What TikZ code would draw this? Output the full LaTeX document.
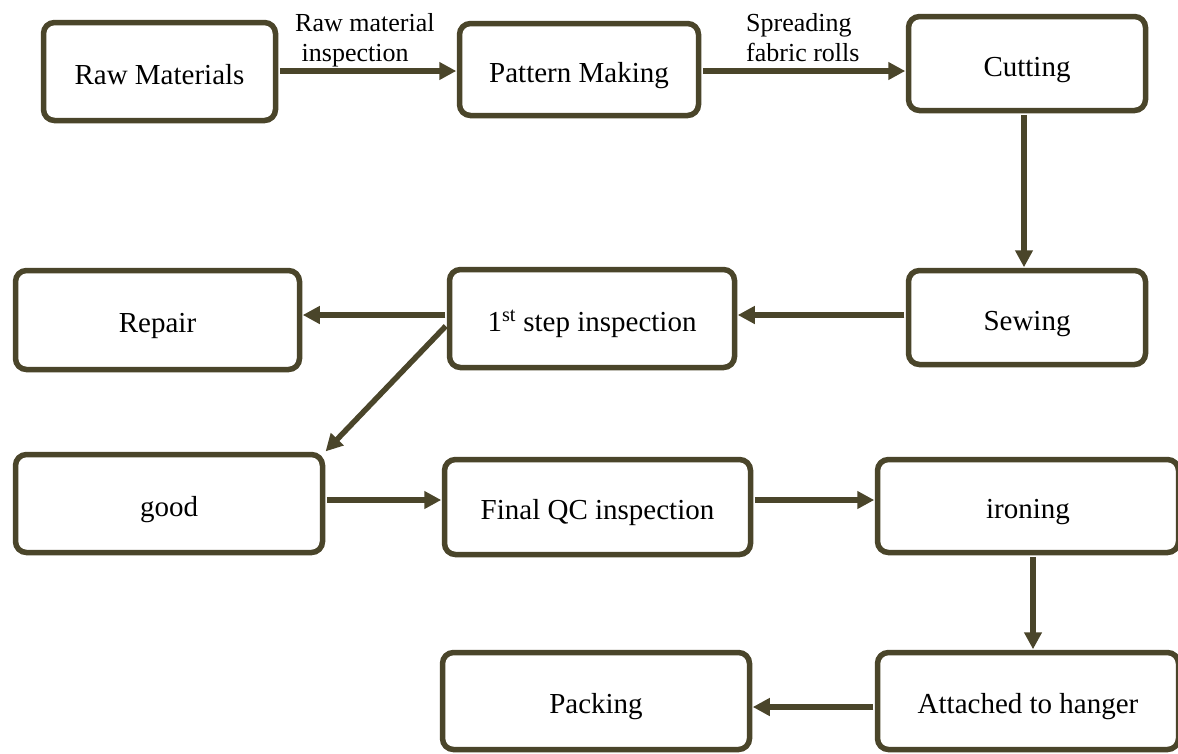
\documentclass[tikz,border=0pt]{standalone}
\usepackage{fontspec}
\setmainfont{Liberation Serif}
\usetikzlibrary{arrows.meta}
\definecolor{boxc}{RGB}{74,69,42}
\begin{document}
\begin{tikzpicture}[x=1pt,y=-1pt,
  box/.style={draw=boxc, line width=5.5pt, rounded corners=11pt, fill=white,
    inner sep=0pt, text height=25pt, text depth=0pt, text=black,
    font=\fontsize{29pt}{33pt}\selectfont},
  lbl/.style={inner sep=0pt, align=left, text depth=0pt, anchor=south west,
    font=\fontsize{26pt}{30pt}\selectfont},
  arr/.style={draw=boxc, line width=5.5pt, shorten <=1.5pt, shorten >=0.5pt,
    -{Triangle[length=17pt,width=17pt]}}]
\fill[white] (0,0) rectangle (1178,753);
\useasboundingbox (0,0) rectangle (1178,753);

\node[box, minimum width=232pt, minimum height=98pt] (rm) at (159.5,71.5) {Raw Materials};
\node[box, minimum width=239pt, minimum height=92pt] (pm) at (579,69.5) {Pattern Making};
\node[box, minimum width=237pt, minimum height=94pt] (cut) at (1027,63.5) {Cutting};
\node[box, minimum width=237pt, minimum height=94pt] (sew) at (1027,317.5) {Sewing};
\node[box, minimum width=285pt, minimum height=98pt] (st) at (592,318.5) {1\textsuperscript{st} step inspection};
\node[box, minimum width=284pt, minimum height=99pt] (rep) at (157.5,320) {Repair};
\node[box, minimum width=307pt, minimum height=98pt] (good) at (169,503.5) {good};
\node[box, minimum width=306pt, minimum height=95pt] (fqc) at (597.5,507) {Final QC inspection};
\node[box, minimum width=301pt, minimum height=93pt] (iron) at (1028,506) {ironing};
\node[box, minimum width=301pt, minimum height=97pt] (hang) at (1028,701) {Attached to hanger};
\node[box, minimum width=307pt, minimum height=97pt] (pack) at (596,701) {Packing};

\node[lbl] (l1) at (295,62) {Raw material\\\hspace*{0.25em}inspection};
\node[lbl] (l2) at (746,62) {Spreading\\fabric rolls};

\draw[arr] ([yshift=0.5pt]rm.east) -- ([yshift=0.5pt]rm.east -| pm.west);
\draw[arr] ([yshift=-1.5pt]pm.east) -- ([yshift=-1.5pt]pm.east -| cut.west);
\draw[arr] ([xshift=-3pt]cut.south) -- ([xshift=-3pt]cut.south |- sew.north);
\draw[arr] ([yshift=2.5pt]sew.west) -- ([yshift=2.5pt]sew.west -| st.east);
\draw[arr] ([yshift=3.5pt]st.west) -- ([yshift=3.5pt]st.west -| rep.east);
\draw[arr] ([yshift=-6.5pt]st.west) -- (good.north east);
\draw[arr] ([yshift=3.5pt]good.east) -- ([yshift=3.5pt]good.east -| fqc.west);
\draw[arr] ([yshift=7pt]fqc.east) -- ([yshift=7pt]fqc.east -| iron.west);
\draw[arr] ([xshift=5pt]iron.south) -- ([xshift=5pt]iron.south |- hang.north);
\draw[arr] ([yshift=-6pt]hang.west) -- ([yshift=-6pt]hang.west -| pack.east);
\end{tikzpicture}
\end{document}
